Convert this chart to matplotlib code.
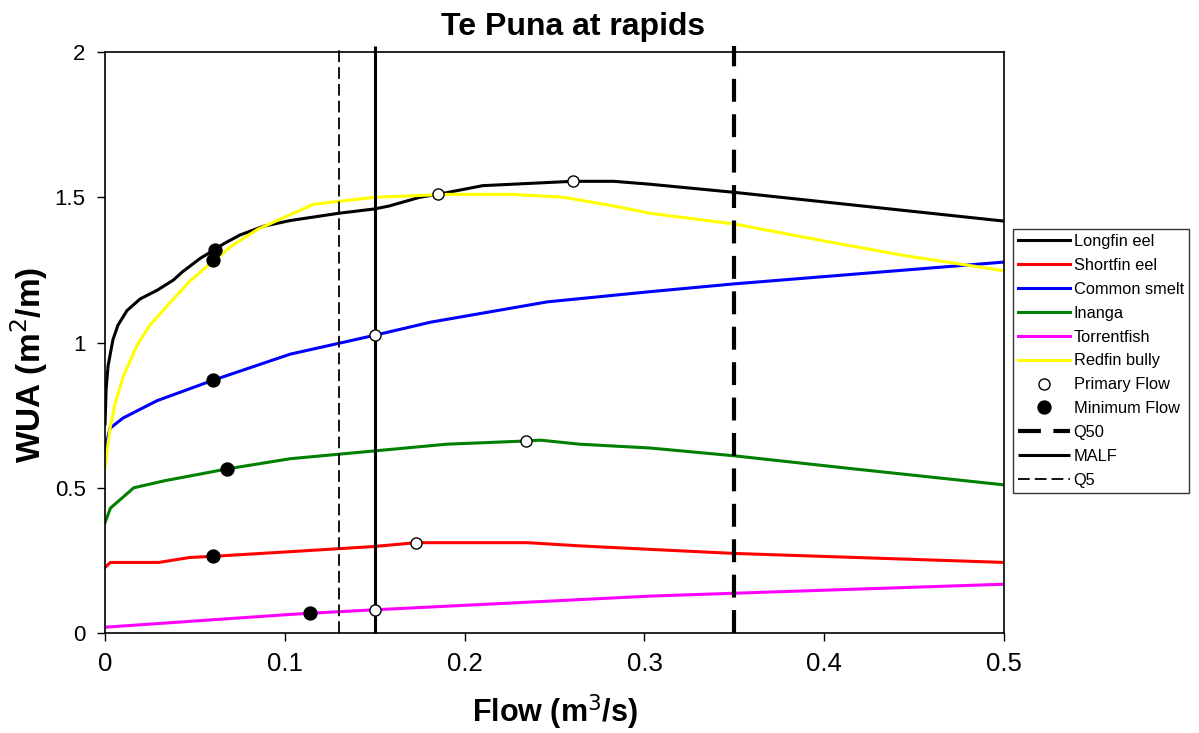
import numpy as np
from matplotlib import pyplot as plt

plt.rcParams['font.family'] = ['Liberation Sans', 'DejaVu Sans']

# Flow (m3/s) and WUA (m2/m)
longfin_x = [0, 0.0006, 0.0017, 0.0044, 0.0072, 0.0122, 0.0195, 0.029, 0.038, 0.043, 0.053,
             0.061, 0.066, 0.075, 0.088, 0.103, 0.13, 0.15, 0.158, 0.175, 0.185, 0.21,
             0.26, 0.283, 0.303, 0.35, 0.5]
longfin_y = [0.72, 0.84, 0.92, 1.01, 1.06, 1.11, 1.15, 1.18, 1.215, 1.243, 1.29,
             1.32, 1.34, 1.37, 1.40, 1.42, 1.445, 1.46, 1.47, 1.50, 1.51, 1.54,
             1.555, 1.555, 1.545, 1.517, 1.418]

shortfin_x = [0, 0.003, 0.03, 0.047, 0.06, 0.103, 0.15, 0.173, 0.2, 0.235, 0.264, 0.303, 0.35, 0.5]
shortfin_y = [0.226, 0.243, 0.243, 0.26, 0.264, 0.28, 0.298, 0.311, 0.311, 0.311, 0.30, 0.288, 0.274, 0.243]

smelt_x = [0, 0.001, 0.0028, 0.01, 0.029, 0.06, 0.103, 0.15, 0.181, 0.246, 0.303, 0.35, 0.5]
smelt_y = [0.627, 0.66, 0.705, 0.74, 0.80, 0.87, 0.96, 1.025, 1.07, 1.14, 1.175, 1.202, 1.277]

inanga_x = [0, 0.003, 0.016, 0.033, 0.068, 0.103, 0.15, 0.19, 0.234, 0.242, 0.264, 0.303, 0.35, 0.412, 0.5]
inanga_y = [0.38, 0.43, 0.50, 0.524, 0.565, 0.60, 0.627, 0.65, 0.661, 0.664, 0.65, 0.637, 0.61, 0.568, 0.51]

torrent_x = [0, 0.103, 0.114, 0.15, 0.264, 0.303, 0.35, 0.5]
torrent_y = [0.02, 0.064, 0.068, 0.08, 0.115, 0.127, 0.137, 0.168]

redfin_x = [0, 0.0028, 0.0056, 0.01, 0.0178, 0.025, 0.038, 0.047, 0.06, 0.071, 0.085, 0.103,
            0.116, 0.15, 0.19, 0.227, 0.255, 0.283, 0.303, 0.35, 0.397, 0.444, 0.5]
redfin_y = [0.57, 0.705, 0.79, 0.88, 0.99, 1.06, 1.15, 1.21, 1.28, 1.335, 1.39, 1.44,
            1.476, 1.50, 1.51, 1.51, 1.50, 1.47, 1.445, 1.408, 1.353, 1.30, 1.247]

primary_x = [0.185, 0.26, 0.15, 0.234, 0.173, 0.15]
primary_y = [1.51, 1.555, 1.025, 0.661, 0.311, 0.08]

minimum_x = [0.061, 0.06, 0.06, 0.068, 0.06, 0.114]
minimum_y = [1.32, 1.284, 0.87, 0.565, 0.264, 0.068]

q50 = 0.35
malf = 0.15
q5 = 0.13

fig = plt.figure(figsize=(11.99, 7.33), dpi=100)
ax = fig.add_axes([0.0876, 0.1364, 0.7498, 0.7926])

lw = 2.2
ax.plot(longfin_x, longfin_y, color='black', lw=lw, label='Longfin eel')
ax.plot(shortfin_x, shortfin_y, color='#ff0000', lw=lw, label='Shortfin eel')
ax.plot(smelt_x, smelt_y, color='#0000ff', lw=lw, label='Common smelt')
ax.plot(inanga_x, inanga_y, color='#008000', lw=lw, label='Inanga')
ax.plot(torrent_x, torrent_y, color='#ff00ff', lw=lw, label='Torrentfish')
ax.plot(redfin_x, redfin_y, color='#ffff00', lw=lw, label='Redfin bully')

ax.plot(primary_x, primary_y, 'o', mfc='white', mec='black', mew=1.0, ms=8,
        ls='none', label='Primary Flow', zorder=5)
ax.plot(minimum_x, minimum_y, 'o', color='black', ms=9.3, ls='none',
        label='Minimum Flow', zorder=5)

ytop = 2.02
ax.vlines(q50, 0, ytop, color='black', lw=3, linestyles=[(0, (5.5, 3))],
          clip_on=False, label='Q50')
ax.vlines(malf, 0, ytop, color='black', lw=2.2, clip_on=False, label='MALF')
ax.vlines(q5, 0, ytop, color='black', lw=1.3, linestyles=[(0, (6.5, 2.8))],
          clip_on=False, label='Q5')

ax.set_xlim(0, 0.5)
ax.set_ylim(0, 2)
ax.set_xticks([0, 0.1, 0.2, 0.3, 0.4, 0.5])
ax.set_xticklabels(['0', '0.1', '0.2', '0.3', '0.4', '0.5'])
ax.set_yticks([0, 0.5, 1, 1.5, 2])
ax.set_yticklabels(['0', '0.5', '1', '1.5', '2'])
ax.tick_params(direction='out', length=6, width=1, pad=8)
ax.tick_params(axis='x', labelsize=18.5)
ax.tick_params(axis='y', labelsize=16)
for s in ax.spines.values():
    s.set_linewidth(1.2)

fig.text(0.478, 1 - 35 / 733, 'Te Puna at rapids', fontsize=23, fontweight='bold',
         ha='center', va='baseline')
ax.set_xlabel('Flow (m$^3$/s)', fontsize=22, fontweight='bold')
ax.set_ylabel('WUA (m$^2$/m)', fontsize=24, fontweight='bold')
ax.xaxis.set_label_coords(0.5, -0.103)
ax.yaxis.set_label_coords(-0.061, 0.461)

leg = ax.legend(loc='upper left', bbox_to_anchor=(1.01, 0.695), fontsize=11.8,
                frameon=True, fancybox=False, edgecolor='black', borderpad=0.3,
                borderaxespad=0, handlelength=3.2, labelspacing=0.54,
                handletextpad=0.2)
leg.get_frame().set_linewidth(1.0)

fig.savefig('out.png', dpi=100)
